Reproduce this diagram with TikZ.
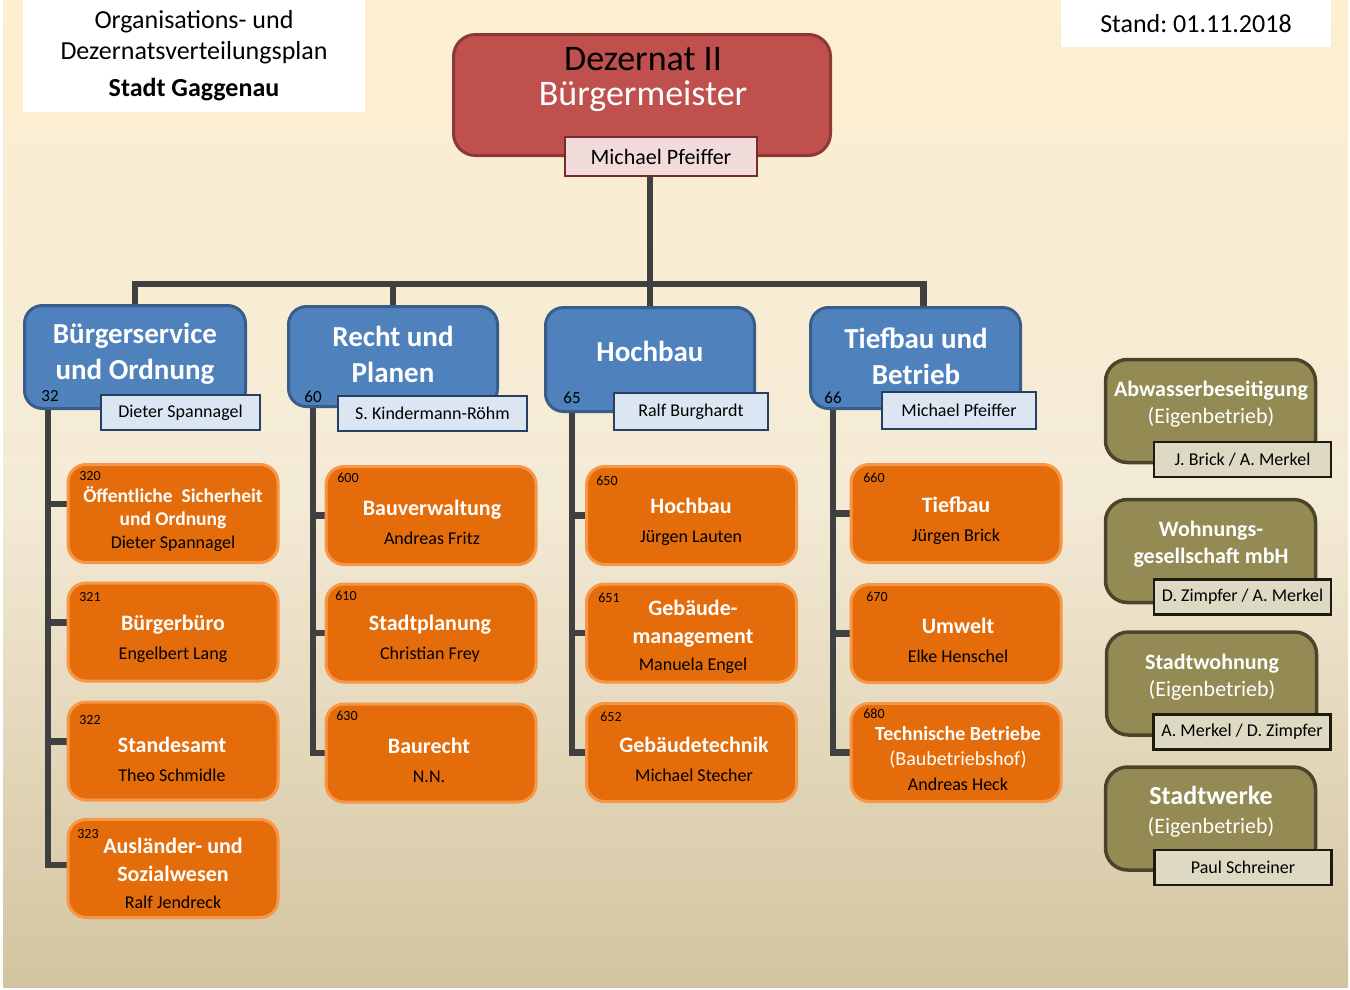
\documentclass[tikz,border=0pt]{standalone}
\usepackage{fontspec}
\setmainfont{Carlito}
\usetikzlibrary{backgrounds}
\frenchspacing

\definecolor{bgtop}{HTML}{FDEFD0}
\definecolor{bgmid}{HTML}{F4EBD6}
\definecolor{bgbot}{HTML}{D3C4A0}
\definecolor{connline}{HTML}{404040}
\definecolor{redfill}{HTML}{C0504D}
\definecolor{redline}{HTML}{8C3836}
\definecolor{rnamefill}{HTML}{F2DCDB}
\definecolor{rnameline}{HTML}{772C2A}
\definecolor{bluefill}{HTML}{4F81BD}
\definecolor{blueline}{HTML}{385D8A}
\definecolor{bnamefill}{HTML}{DCE6F2}
\definecolor{bnameline}{HTML}{254061}
\definecolor{orfill}{HTML}{E46C0A}
\definecolor{orline}{HTML}{F79646}
\definecolor{olfill}{HTML}{948A54}
\definecolor{olline}{HTML}{4A452A}
\definecolor{onamefill}{HTML}{DDD9C3}
\definecolor{onameline}{HTML}{1D1B10}

\newcommand{\pers}{\mdseries\color{black}\fontsize{18}{22}\selectfont}

\begin{document}
\begin{tikzpicture}[x=1pt, y=-1pt,
    conn/.style={draw=connline, line width=6.5pt},
    headbox/.style={fill=white, inner sep=0pt, align=center, font=\fontsize{26}{31}\selectfont},
    redbox/.style={draw=redline, fill=redfill, line width=3pt, rounded corners=22pt},
    rname/.style={draw=rnameline, fill=rnamefill, line width=2.5pt, inner sep=0pt, font=\fontsize{22}{26}\selectfont},
    bbox/.style={draw=blueline, fill=bluefill, line width=3pt, rounded corners=18pt},
    btext/.style={text=white, align=center, inner sep=0pt, font=\fontsize{29}{36}\selectfont\bfseries},
    bname/.style={draw=bnameline, fill=bnamefill, line width=2.5pt, inner sep=0pt, font=\fontsize{18}{22}\selectfont},
    bnum/.style={inner sep=0pt, font=\fontsize{17}{20}\selectfont},
    obox/.style={draw=orline, fill=orfill, line width=3pt, rounded corners=18pt, minimum width=210pt, minimum height=98pt},
    otext/.style={text=white, align=center, inner sep=0pt, font=\fontsize{22}{29}\selectfont\bfseries},
    num/.style={inner sep=0pt, font=\fontsize{14}{16}\selectfont},
    gbox/.style={draw=olline, fill=olfill, line width=3.5pt, rounded corners=22pt, minimum width=210pt, minimum height=103pt},
    gtext/.style={text=white, align=center, inner sep=0pt, font=\fontsize{22}{27}\selectfont\bfseries},
    gname/.style={draw=onameline, fill=onamefill, line width=2.5pt, inner sep=0pt, minimum width=177pt, minimum height=35pt, font=\fontsize{18}{22}\selectfont}]

    \useasboundingbox (0,0) rectangle (1350,989);

    % header
    \node[headbox, minimum width=342pt, minimum height=112pt] (head) at (194,56)
        {Organisations- und\\Dezernatsverteilungsplan\\[6pt]\textbf{Stadt Gaggenau}};
    \node[headbox, minimum width=270pt, minimum height=47pt] (stand) at (1196,23.5) {Stand: 01.11.2018};

    % Dezernat
    \node[redbox, minimum width=377pt, minimum height=121pt] (dez) at (642,95) {};
    \node[text=white, align=center, inner sep=0pt, font=\fontsize{36}{35}\selectfont] (dezt) at (643,80)
        {\color{black}Dezernat II\\Bürgermeister};
    \node[rname, minimum width=192pt, minimum height=39pt] (mp) at (661,156.5) {Michael Pfeiffer};

    % Aemter
    \node[bbox, minimum width=221pt, minimum height=103pt] (d32) at (135,357) {};
    \node[btext] (t32) at (135,354) {Bürgerservice\\und Ordnung};
    \node[bnum] (k32) at (50,396) {32};
    \node[bname, minimum width=159pt, minimum height=35pt] (p32) at (180.5,412.5) {Dieter Spannagel};

    \node[bbox, minimum width=209pt, minimum height=100pt] (d60) at (393,356.5) {};
    \node[btext] (t60) at (393,354.5) {Recht und\\Planen};
    \node[bnum] (k60) at (313,397) {60};
    \node[bname, minimum width=189pt, minimum height=35pt] (p60) at (432.5,413.5) {S. Kindermann-Röhm};

    \node[bbox, minimum width=209pt, minimum height=104pt] (d65) at (650,359.5) {};
    \node[btext] (t65) at (650,351) {Hochbau};
    \node[bnum] (k65) at (572,398) {65};
    \node[bname, minimum width=154pt, minimum height=37pt] (p65) at (691,411.5) {Ralf Burghardt};

    \node[bbox, minimum width=210pt, minimum height=101pt] (d66) at (915.5,358) {};
    \node[btext] (t66) at (916,356) {Tiefbau und\\Betrieb};
    \node[bnum] (k66) at (833,398) {66};
    \node[bname, minimum width=154pt, minimum height=37pt] (p66) at (959,410.5) {Michael Pfeiffer};

    % Abteilungen 32
    \node[obox] (b320) at (173,513.5) {};
    \node[num] (k320) at (90,476) {320};
    \node[otext, font=\fontsize{19.5}{23}\selectfont\bfseries] (t320) at (173,519.5)
        {Öffentliche\ \ Sicherheit\\und Ordnung\\\pers Dieter Spannagel};
    \node[obox] (b321) at (173,632) {};
    \node[num] (k321) at (90,597) {321};
    \node[otext] (t321) at (173,639) {Bürgerbüro\\\pers Engelbert Lang};
    \node[obox] (b322) at (173,751) {};
    \node[num] (k322) at (90,720) {322};
    \node[otext] (t322) at (172,759.5) {Standesamt\\\pers Theo Schmidle};
    \node[obox] (b323) at (173,868.5) {};
    \node[num] (k323) at (88,834) {323};
    \node[otext, font=\fontsize{22}{27.5}\selectfont\bfseries] (t323) at (173,873.5)
        {Ausländer- und\\Sozialwesen\\\pers Ralf Jendreck};

    % Abteilungen 60
    \node[obox] (b600) at (431,515.5) {};
    \node[num] (k600) at (348,478) {600};
    \node[otext] (t600) at (432,522) {Bauverwaltung\\\pers Andreas Fritz};
    \node[obox] (b610) at (431,633) {};
    \node[num] (k610) at (346,596) {610};
    \node[otext] (t610) at (430,638.5) {Stadtplanung\\\pers Christian Frey};
    \node[obox] (b630) at (431,753) {};
    \node[num] (k630) at (347,716) {630};
    \node[otext] (t630) at (429,760) {Baurecht\\\pers N.N.};

    % Abteilungen 65
    \node[obox] (b650) at (691.5,515.5) {};
    \node[num] (k650) at (607,481) {650};
    \node[otext] (t650) at (691,522) {Hochbau\\\pers Jürgen Lauten};
    \node[obox] (b651) at (691.5,633) {};
    \node[num] (k651) at (609,598) {651};
    \node[otext, font=\fontsize{22}{27.5}\selectfont\bfseries] (t651) at (693,637)
        {Gebäude-\\management\\\pers Manuela Engel};
    \node[obox] (b652) at (691.5,752.5) {};
    \node[num] (k652) at (611,717) {652};
    \node[otext] (t652) at (694,759) {Gebäudetechnik\\\pers Michael Stecher};

    % Abteilungen 66
    \node[obox] (b660) at (956,513.5) {};
    \node[num] (k660) at (874,478) {660};
    \node[otext] (t660) at (956,520.5) {Tiefbau\\\pers Jürgen Brick};
    \node[obox] (b670) at (956,633.5) {};
    \node[num] (k670) at (877,597) {670};
    \node[otext] (t670) at (958,640) {Umwelt\\\pers Elke Henschel};
    \node[obox] (b680) at (956,752.5) {};
    \node[num] (k680) at (874,714) {680};
    \node[otext, font=\fontsize{20}{25}\selectfont\bfseries] (t680) at (958,758.5)
        {Technische Betriebe\\\mdseries(Baubetriebshof)\\\pers Andreas Heck};

    % Eigenbetriebe
    \node[gbox] (w1) at (1210.5,411) {};
    \node[gtext] (g1) at (1211,404.5) {Abwasserbeseitigung\\\mdseries(Eigenbetrieb)};
    \node[gname] (q1) at (1242.5,459.5) {J. Brick / A. Merkel};
    \node[gbox] (w2) at (1210.5,551) {};
    \node[gtext] (g2) at (1211,544.5) {Wohnungs-\\gesellschaft mbH};
    \node[gname] (q2) at (1242.5,597) {D. Zimpfer / A. Merkel};
    \node[gbox] (w3) at (1211.5,683.5) {};
    \node[gtext] (g3) at (1212,677.5) {Stadtwohnung\\\mdseries(Eigenbetrieb)};
    \node[gname] (q3) at (1242,732) {A. Merkel / D. Zimpfer};
    \node[gbox] (w4) at (1210.5,818.5) {};
    \node[gtext, font=\fontsize{22}{29}\selectfont\bfseries] (g4) at (1211,811.5)
        {\fontsize{26}{30}\selectfont Stadtwerke\\\mdseries(Eigenbetrieb)};
    \node[gname] (q4) at (1243,867.5) {Paul Schreiner};

    % background and lines
    \begin{scope}[on background layer]
        \fill[top color=bgtop, bottom color=bgbot, middle color=bgmid] (3,0) rectangle (1348,987);

        \coordinate (bar) at (0,284);
        \coordinate (d66top) at ([xshift=8pt]d66.north);
        \draw[conn] (d65.north |- mp.south) -- (d65.north);
        \draw[conn] (d32.north) |- (d66top |- bar) -- (d66top);
        \draw[conn] (d60.north) -- (d60.north |- bar);

        \coordinate (s32) at ([xshift=25pt]d32.south west);
        \draw[conn] (s32) |- (b323.178);
        \draw[conn] (b320.175) -- (b320.175 -| s32);
        \draw[conn] (b321.175) -- (b321.175 -| s32);
        \draw[conn] (b322.175) -- (b322.175 -| s32);

        \coordinate (s60) at ([xshift=26pt]d60.south west);
        \draw[conn] (s60) |- (b630.west);
        \draw[conn] (b600.west) -- (b600.west -| s60);
        \draw[conn] (b610.west) -- (b610.west -| s60);

        \coordinate (s65) at ([xshift=28pt]d65.south west);
        \draw[conn] (s65) |- (b652.west);
        \draw[conn] (b650.west) -- (b650.west -| s65);
        \draw[conn] (b651.west) -- (b651.west -| s65);

        \coordinate (s66) at ([xshift=24pt]d66.south west);
        \draw[conn] (s66) |- (b680.west);
        \draw[conn] (b660.west) -- (b660.west -| s66);
        \draw[conn] (b670.west) -- (b670.west -| s66);
    \end{scope}
\end{tikzpicture}
\end{document}
